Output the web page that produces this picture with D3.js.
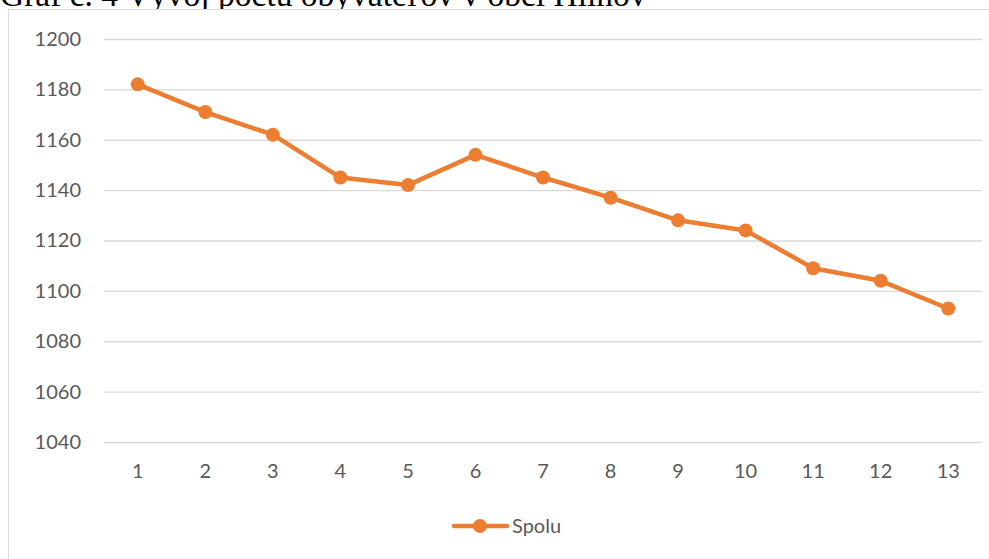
<!DOCTYPE html>
<html>
<head>
<meta charset="utf-8">
<script src="https://cdn.jsdelivr.net/npm/d3@7"></script>
<style>
  body { margin: 0; background: #fff; }
  svg { display: block; }
</style>
</head>
<body>
<svg id="chart"></svg>
<script>
let width = 989;
let height = 559;

let titleText = "Graf č. 4 Vývoj počtu obyvateľov v obci Hlinov";
let seriesName = "Spolu";
let years = [1, 2, 3, 4, 5, 6, 7, 8, 9, 10, 11, 12, 13];
let population = [1182, 1171, 1162, 1145, 1142, 1154, 1145, 1137, 1128, 1124, 1109, 1104, 1093];
let yTicks = [1040, 1060, 1080, 1100, 1120, 1140, 1160, 1180, 1200];

let plot = { left: 104, right: 982, top: 39, bottom: 442 };
let orange = "#ED7D31";
let labelFont = "Lato, 'Open Sans', sans-serif";

let svg = d3.select("svg#chart").attr("width", width).attr("height", height);

// caption above the chart frame, clipped by the page top (as in the source)
svg
  .append("text")
  .attr("x", 0)
  .attr("y", 6)
  .attr("font-family", "'Liberation Serif', 'Times New Roman', serif")
  .attr("font-size", "33.5px")
  .attr("fill", "#000")
  .text(titleText);

// chart frame
svg
  .append("rect")
  .attr("x", 8.5)
  .attr("y", 9.5)
  .attr("width", width)
  .attr("height", height)
  .attr("fill", "#fff")
  .attr("stroke", "#d9d9d9")
  .attr("stroke-width", 1);

let xScale = d3.scaleBand().domain(years).range([plot.left, plot.right]);
let yScale = d3.scaleLinear().domain([1040, 1200]).range([plot.bottom, plot.top]);

// gridlines + y labels
let yAxis = d3
  .axisLeft(yScale)
  .tickValues(yTicks)
  .tickFormat(d3.format("d"))
  .tickSize(-(plot.right - plot.left))
  .tickPadding(23);
svg
  .append("g")
  .attr("transform", `translate(${plot.left}, 0)`)
  .call(yAxis)
  .call((g) => g.select(".domain").remove())
  .call((g) => g.selectAll("line").attr("stroke", "#d9d9d9").attr("stroke-width", 1.3))
  .call((g) =>
    g.selectAll("text")
      .attr("fill", "#595959")
      .style("font-family", labelFont)
      .style("font-size", "20px")
  );

// x labels
let xAxis = d3.axisBottom(xScale).tickSize(0).tickPadding(22);
svg
  .append("g")
  .attr("transform", `translate(0, ${plot.bottom})`)
  .call(xAxis)
  .call((g) => g.select(".domain").remove())
  .call((g) =>
    g.selectAll("text")
      .attr("fill", "#595959")
      .style("font-family", labelFont)
      .style("font-size", "20px")
  );

let cx = (d, i) => xScale(years[i]) + xScale.bandwidth() / 2;
let cy = (d) => yScale(d);

let line = d3.line().x(cx).y(cy);

svg
  .append("path")
  .datum(population)
  .attr("d", line)
  .attr("fill", "none")
  .attr("stroke", orange)
  .attr("stroke-width", 4.5)
  .attr("stroke-linejoin", "round")
  .attr("stroke-linecap", "round");

svg
  .append("g")
  .selectAll("circle")
  .data(population)
  .join("circle")
  .attr("cx", cx)
  .attr("cy", cy)
  .attr("r", 7)
  .attr("fill", orange);

// legend
let legend = svg.append("g").attr("transform", "translate(480, 526)");
legend
  .append("line")
  .attr("x1", -26)
  .attr("x2", 27)
  .attr("stroke", orange)
  .attr("stroke-width", 4.5)
  .attr("stroke-linecap", "round");
legend.append("circle").attr("r", 7).attr("fill", orange);
legend
  .append("text")
  .attr("x", 32)
  .attr("dy", "0.35em")
  .attr("fill", "#595959")
  .style("font-family", labelFont)
  .style("font-size", "20px")
  .text(seriesName);
</script>
</body>
</html>
